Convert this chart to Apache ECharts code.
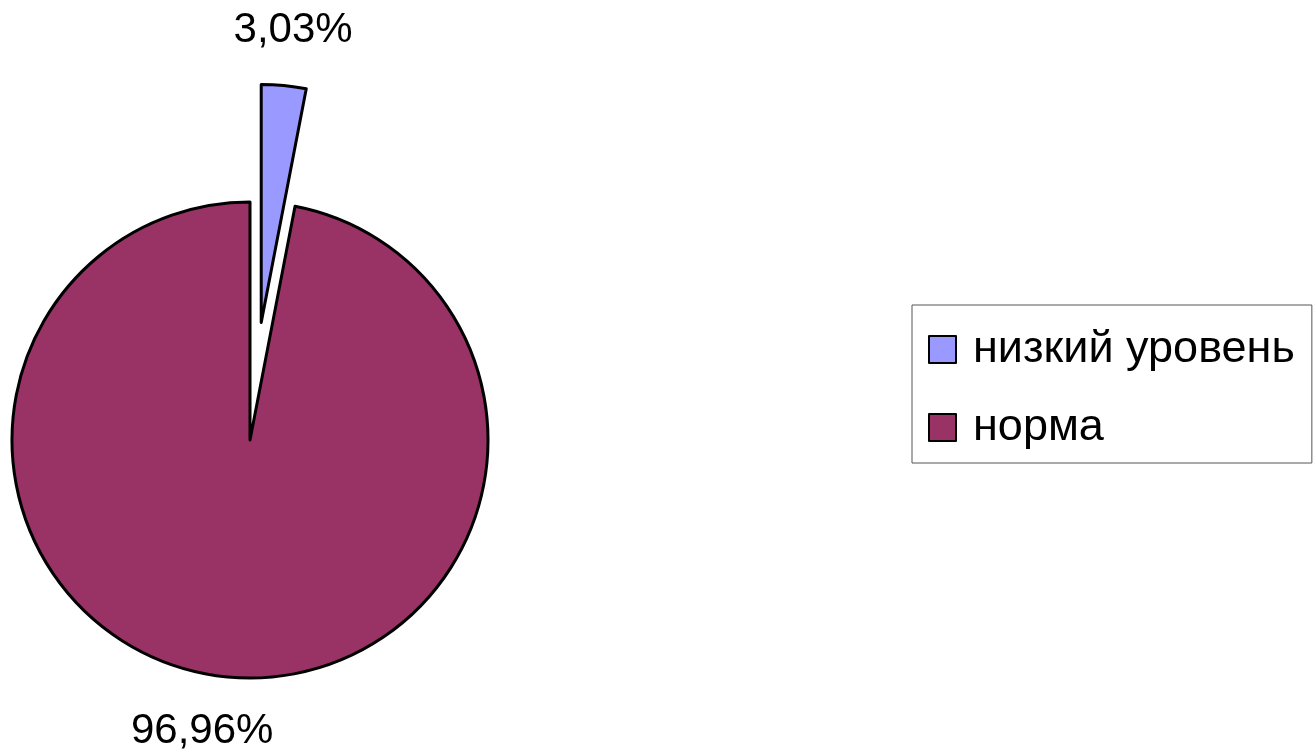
<!DOCTYPE html>
<html>
<head>
<meta charset="utf-8">
<script src="https://cdn.jsdelivr.net/npm/echarts@6/dist/echarts.min.js"></script>
<style>html,body{margin:0;padding:0;background:#fff}#c{width:1316px;height:756px}</style>
</head>
<body>
<div id="c"></div>
<script>
var categories = ['низкий уровень', 'норма'];
var values = [3.03, 96.96];
var colors = ['#9999FF', '#993366'];

var chart = echarts.init(document.getElementById('c'));
var data = categories.map(function (name, i) {
  return { name: name, value: values[i], selected: i === 0, itemStyle: { color: colors[i] } };
});
chart.setOption({
  animation: false,
  textStyle: { fontFamily: 'Liberation Sans' },
  legend: {
    orient: 'vertical',
    left: 912,
    top: 305,
    padding: [22, 17, 13, 16],
    itemGap: 33,
    itemWidth: 27,
    itemHeight: 27,
    icon: 'rect',
    borderColor: '#555',
    borderWidth: 1,
    selectedMode: false,
    textStyle: { fontSize: 45, color: '#000', fontFamily: 'Liberation Sans', padding: [0, 0, 0, 12] },
    data: categories
  },
  series: [{
    type: 'pie',
    center: [250, 440],
    radius: 238,
    startAngle: 90,
    clockwise: true,
    selectedMode: 'single',
    selectedOffset: 118,
    avoidLabelOverlap: false,
    itemStyle: { borderColor: '#000', borderWidth: 3 },
    emphasis: { disabled: true },
    label: {
      show: true,
      position: 'outside',
      fontSize: 42,
      color: '#000',
      fontFamily: 'Liberation Sans',
      distanceToLabelLine: 0,
      formatter: function (p) { return p.value.toFixed(2).replace('.', ',') + '%'; }
    },
    labelLine: { show: false, length: 55, length2: 0 },
    labelLayout: function (p) {
      return { align: 'center', verticalAlign: 'middle', dx: p.dataIndex === 1 ? -20 : 4 };
    },
    data: data
  }]
});
</script>
</body>
</html>
